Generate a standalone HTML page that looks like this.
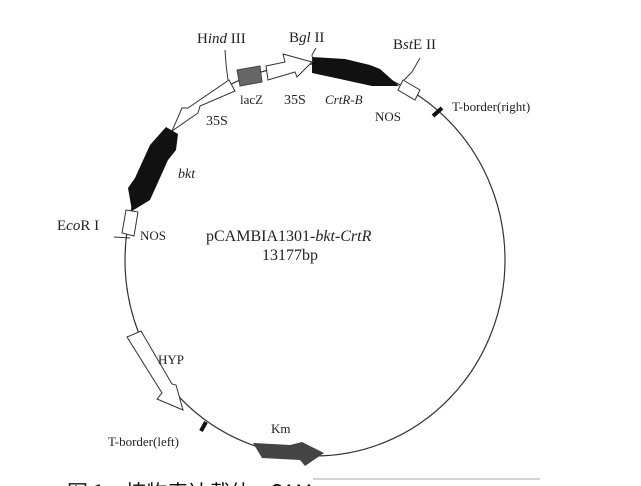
<!DOCTYPE html>
<html><head><meta charset="utf-8"><style>
html,body{margin:0;padding:0;background:#fff;}
svg{display:block;}
text{font-family:"Liberation Serif","Noto Serif CJK SC",serif;fill:#222;}
</style></head><body>
<svg width="641" height="486" viewBox="0 0 641 486" xmlns="http://www.w3.org/2000/svg">
<rect width="641" height="486" fill="#fff"/>
<ellipse cx="315" cy="260" rx="190" ry="196" fill="none" stroke="#333" stroke-width="1.2"/>
<polygon points="312,57 345,59 370,65 380,69 399,86 372,86 340,79 312,73" fill="#111"/>
<polygon points="403,80 420,90 415,100 398,90" fill="#fff" stroke="#333" stroke-width="1"/>
<line x1="433" y1="116" x2="442" y2="108" stroke="#111" stroke-width="4"/>
<polygon points="266,66 285,62 283,54 312,62 297,77 295,72 268,80" fill="#fff" stroke="#333" stroke-width="1"/>
<polygon points="237,70 260,66 262,82 240,86" fill="#666" stroke="#444" stroke-width="1"/>
<polygon points="229,80 235,91 200,106 198,113 172,131 182,108 188,108" fill="#fff" stroke="#333" stroke-width="1"/>
<polygon points="166,127 178,134 176,150 168,160 150,200 132,211 128,188 135,178 150,145" fill="#111"/>
<polygon points="126,210 138,212 134,236 122,233" fill="#fff" stroke="#333" stroke-width="1"/>
<line x1="114" y1="237" x2="130" y2="238" stroke="#333" stroke-width="1"/>
<polygon points="127,337 141,331 172,384 176,385 183,410 157,399 162,393" fill="#fff" stroke="#333" stroke-width="1"/>
<line x1="201" y1="431" x2="206" y2="422" stroke="#111" stroke-width="4"/>
<polygon points="253,443 290,445 302,442 324,453 305,466 300,460 262,458" fill="#444"/>
<polyline points="225,50 226,64 228,80" fill="none" stroke="#333" stroke-width="1"/>
<polyline points="316,48 312,55 313,62" fill="none" stroke="#333" stroke-width="1"/>
<polyline points="420,58 412,72 404,80" fill="none" stroke="#333" stroke-width="1"/>
<text x="197" y="43" font-size="15">H<tspan font-style="italic">ind</tspan> III</text>
<text x="289" y="42" font-size="15">B<tspan font-style="italic">gl</tspan> II</text>
<text x="393" y="49" font-size="15">B<tspan font-style="italic">st</tspan>E II</text>
<text x="240" y="104" font-size="13">lacZ</text>
<text x="284" y="104" font-size="14">35S</text>
<text x="325" y="104" font-size="13" font-style="italic">CrtR-B</text>
<text x="375" y="121" font-size="13">NOS</text>
<text x="452" y="111" font-size="13">T-border(right)</text>
<text x="206" y="125" font-size="14">35S</text>
<text x="178" y="178" font-size="14" font-style="italic">bkt</text>
<text x="57" y="230" font-size="15">E<tspan font-style="italic">co</tspan>R I</text>
<text x="140" y="240" font-size="13">NOS</text>
<text x="206" y="241" font-size="16">pCAMBIA1301-<tspan font-style="italic">bkt</tspan>-<tspan font-style="italic">CrtR</tspan></text>
<text x="262" y="260" font-size="16">13177bp</text>
<text x="158" y="364" font-size="13">HYP</text>
<text x="108" y="446" font-size="13">T-border(left)</text>
<text x="271" y="433" font-size="13">Km</text>
<text x="67" y="500" font-size="21" style="font-family:'Noto Sans CJK SC',sans-serif;fill:#111">图 1　植物表达载体 pCAMBIA</text>
<rect x="313" y="470" width="328" height="16" fill="#fff"/>
<line x1="313" y1="479" x2="540" y2="479" stroke="#aab" stroke-width="1"/>
</svg>
</body></html>
